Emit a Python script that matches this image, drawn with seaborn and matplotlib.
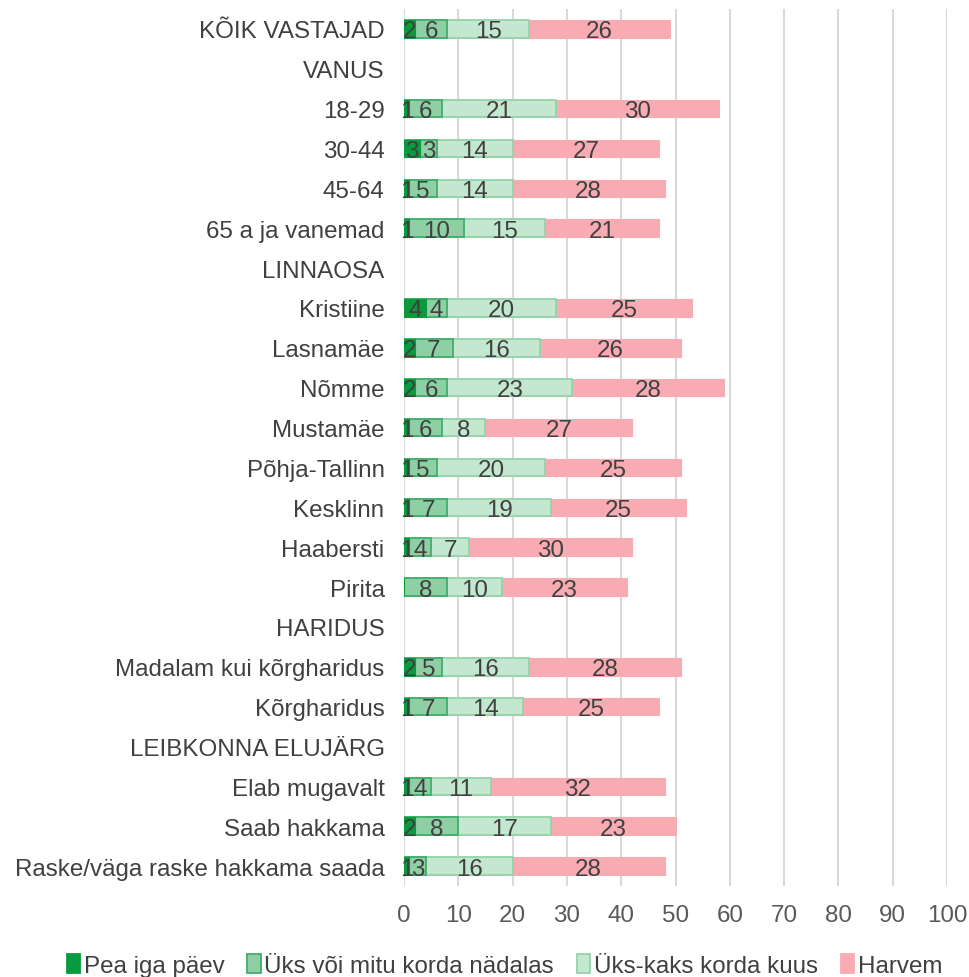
import numpy as np
import pandas as pd
import matplotlib
matplotlib.use("Agg")
import matplotlib.pyplot as plt
from matplotlib.patches import Patch
import seaborn as sns

categories = [
    "KÕIK VASTAJAD", "VANUS", "18-29", "30-44", "45-64", "65 a ja vanemad",
    "LINNAOSA", "Kristiine", "Lasnamäe", "Nõmme", "Mustamäe", "Põhja-Tallinn",
    "Kesklinn", "Haabersti", "Pirita", "HARIDUS", "Madalam kui kõrgharidus",
    "Kõrgharidus", "LEIBKONNA ELUJÄRG", "Elab mugavalt", "Saab hakkama",
    "Raske/väga raske hakkama saada",
]
nan = np.nan
pea_iga_paev = [2, nan, 1, 3, 1, 1, nan, 4, 2, 2, 1, 1, 1, 1, 0, nan, 2, 1, nan, 1, 2, 1]
uks_voi_mitu_nadalas = [6, nan, 6, 3, 5, 10, nan, 4, 7, 6, 6, 5, 7, 4, 8, nan, 5, 7, nan, 4, 8, 3]
uks_kaks_kuus = [15, nan, 21, 14, 14, 15, nan, 20, 16, 23, 8, 20, 19, 7, 10, nan, 16, 14, nan, 11, 17, 16]
harvem = [26, nan, 30, 27, 28, 21, nan, 25, 26, 28, 27, 25, 25, 30, 23, nan, 28, 25, nan, 32, 23, 28]

series_names = ["Pea iga päev", "Üks või mitu korda nädalas", "Üks-kaks korda kuus", "Harvem"]
series_values = [pea_iga_paev, uks_voi_mitu_nadalas, uks_kaks_kuus, harvem]
x_ticks = [0, 10, 20, 30, 40, 50, 60, 70, 80, 90, 100]

fills = ["#0a9a3e", "#8fcfa4", "#c4e7cf", "#f8abb3"]
edges = ["#0a9a3e", "#41ad6b", "#93d4aa", "#f8abb3"]

df = pd.DataFrame({"group": categories})
for name, vals in zip(series_names, series_values):
    df[name] = vals
cum = df[series_names].cumsum(axis=1)

sns.set_theme(style="white")
plt.rcParams["font.family"] = ["Liberation Sans", "DejaVu Sans"]
FS = 17.4

fig = plt.figure(figsize=(9.7, 9.78), dpi=100)
ax = fig.add_axes([0.4165, 0.093, 0.5598, 0.8968])

# stacked bars: draw cumulative totals from the widest down
for i in reversed(range(len(series_names))):
    plot_df = pd.DataFrame({"group": categories, "value": cum[series_names[i]]})
    sns.barplot(data=plot_df, x="value", y="group", order=categories, orient="h",
                color=fills[i], saturation=1, width=0.44, ax=ax,
                edgecolor=edges[i], linewidth=1.3 if i in (1, 2) else 0.8)

# value labels centred on each segment
for r, cat in enumerate(categories):
    left = 0.0
    for name in series_names:
        v = df.loc[r, name]
        if pd.isna(v):
            continue
        if v > 0:
            ax.text(left + v / 2, r, f"{v:.0f}", ha="center", va="center_baseline",
                    fontsize=FS, color="#404040")
        left += v

ax.set_xlim(0, 100)
ax.set_ylim(len(categories) - 0.5, -0.5)
ax.set_xticks(x_ticks)
ax.set_xticklabels([str(t) for t in x_ticks])
ax.grid(axis="x", color="#d9d9d9", linewidth=1.5)
ax.set_axisbelow(True)
for s in ax.spines.values():
    s.set_visible(False)
ax.set_xlabel("")
ax.set_ylabel("")
ax.tick_params(axis="both", length=0, labelsize=FS, colors="#595959")
ax.tick_params(axis="y", pad=14, labelcolor="#404040")
ax.tick_params(axis="x", pad=13)

handles = [Patch(facecolor=f, edgecolor=e, linewidth=1.3) for f, e in zip(fills, edges)]
fig.legend(handles, series_names, loc="lower center", bbox_to_anchor=(0.52, -0.022),
           ncol=4, frameon=False, fontsize=FS, handlelength=0.55, handleheight=0.8,
           handletextpad=0.15, columnspacing=0.95, labelcolor="#404040")

fig.savefig("out.png", dpi=100)
